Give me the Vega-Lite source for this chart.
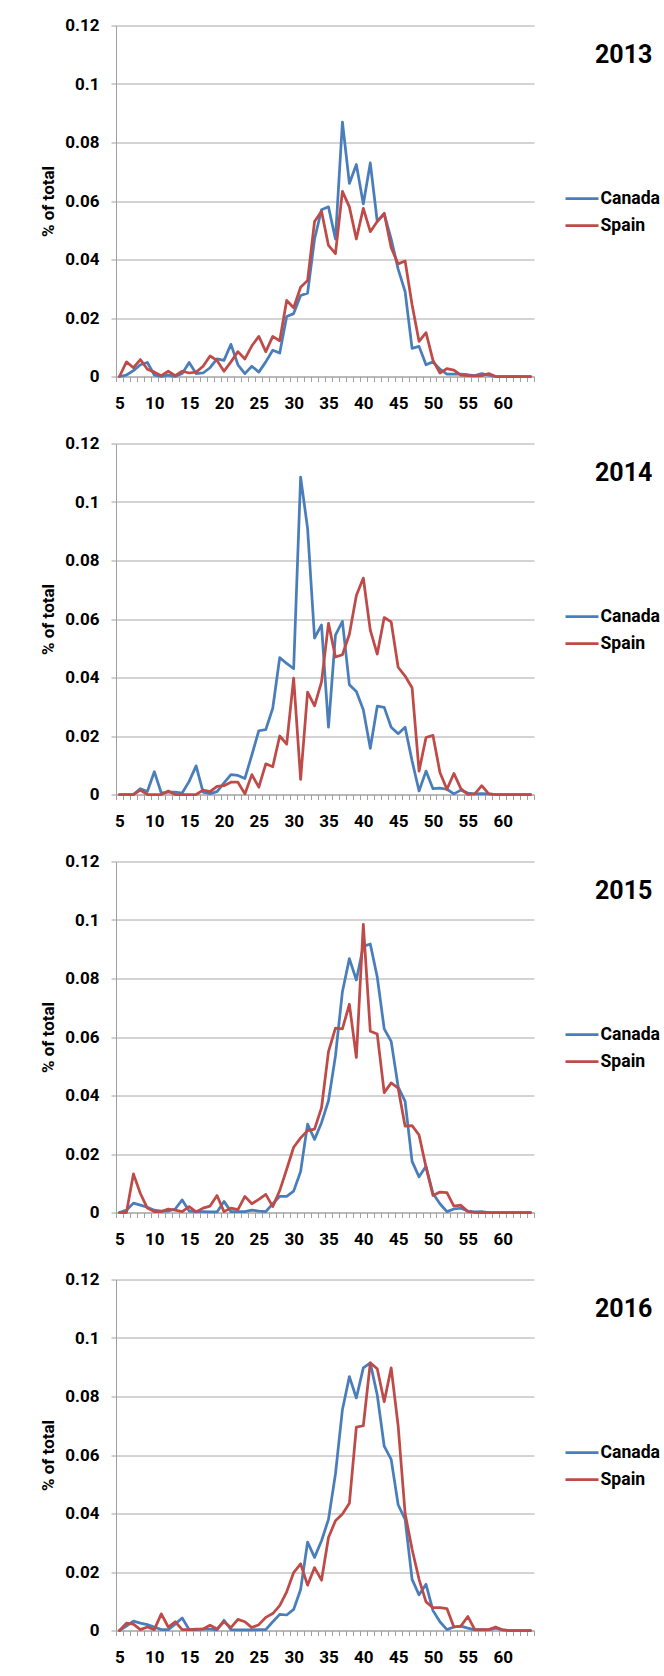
{
"$schema": "https://vega.github.io/schema/vega-lite/v6.json",
"padding": {"left": 39, "top": 16.5, "right": 0, "bottom": 0},
"background": "#ffffff",
"spacing": 23,
"data": {"values": [
{"year":2013,"country":"Canada","age":5,"pct":0},{"year":2013,"country":"Canada","age":6,"pct":0.0005},{"year":2013,"country":"Canada","age":7,"pct":0.002},{"year":2013,"country":"Canada","age":8,"pct":0.004},{"year":2013,"country":"Canada","age":9,"pct":0.0048},{"year":2013,"country":"Canada","age":10,"pct":0.0005},{"year":2013,"country":"Canada","age":11,"pct":0},{"year":2013,"country":"Canada","age":12,"pct":0.0005},{"year":2013,"country":"Canada","age":13,"pct":0},{"year":2013,"country":"Canada","age":14,"pct":0.001},
{"year":2013,"country":"Canada","age":15,"pct":0.0048},{"year":2013,"country":"Canada","age":16,"pct":0.001},{"year":2013,"country":"Canada","age":17,"pct":0.0012},{"year":2013,"country":"Canada","age":18,"pct":0.003},{"year":2013,"country":"Canada","age":19,"pct":0.006},{"year":2013,"country":"Canada","age":20,"pct":0.0055},{"year":2013,"country":"Canada","age":21,"pct":0.011},{"year":2013,"country":"Canada","age":22,"pct":0.004},{"year":2013,"country":"Canada","age":23,"pct":0.001},{"year":2013,"country":"Canada","age":24,"pct":0.0035},
{"year":2013,"country":"Canada","age":25,"pct":0.0015},{"year":2013,"country":"Canada","age":26,"pct":0.005},{"year":2013,"country":"Canada","age":27,"pct":0.009},{"year":2013,"country":"Canada","age":28,"pct":0.008},{"year":2013,"country":"Canada","age":29,"pct":0.0205},{"year":2013,"country":"Canada","age":30,"pct":0.0215},{"year":2013,"country":"Canada","age":31,"pct":0.0277},{"year":2013,"country":"Canada","age":32,"pct":0.0285},{"year":2013,"country":"Canada","age":33,"pct":0.047},{"year":2013,"country":"Canada","age":34,"pct":0.057},
{"year":2013,"country":"Canada","age":35,"pct":0.058},{"year":2013,"country":"Canada","age":36,"pct":0.047},{"year":2013,"country":"Canada","age":37,"pct":0.087},{"year":2013,"country":"Canada","age":38,"pct":0.066},{"year":2013,"country":"Canada","age":39,"pct":0.0725},{"year":2013,"country":"Canada","age":40,"pct":0.059},{"year":2013,"country":"Canada","age":41,"pct":0.073},{"year":2013,"country":"Canada","age":42,"pct":0.053},{"year":2013,"country":"Canada","age":43,"pct":0.0556},{"year":2013,"country":"Canada","age":44,"pct":0.047},
{"year":2013,"country":"Canada","age":45,"pct":0.0367},{"year":2013,"country":"Canada","age":46,"pct":0.029},{"year":2013,"country":"Canada","age":47,"pct":0.0096},{"year":2013,"country":"Canada","age":48,"pct":0.0103},{"year":2013,"country":"Canada","age":49,"pct":0.004},{"year":2013,"country":"Canada","age":50,"pct":0.005},{"year":2013,"country":"Canada","age":51,"pct":0.0025},{"year":2013,"country":"Canada","age":52,"pct":0.0008},{"year":2013,"country":"Canada","age":53,"pct":0.0008},{"year":2013,"country":"Canada","age":54,"pct":0.0008},
{"year":2013,"country":"Canada","age":55,"pct":0.0006},{"year":2013,"country":"Canada","age":56,"pct":0.0003},{"year":2013,"country":"Canada","age":57,"pct":0.001},{"year":2013,"country":"Canada","age":58,"pct":0.0005},{"year":2013,"country":"Canada","age":59,"pct":0},{"year":2013,"country":"Canada","age":60,"pct":0},{"year":2013,"country":"Canada","age":61,"pct":0},{"year":2013,"country":"Canada","age":62,"pct":0},{"year":2013,"country":"Canada","age":63,"pct":0},{"year":2013,"country":"Canada","age":64,"pct":0},
{"year":2013,"country":"Spain","age":5,"pct":0},{"year":2013,"country":"Spain","age":6,"pct":0.005},{"year":2013,"country":"Spain","age":7,"pct":0.003},{"year":2013,"country":"Spain","age":8,"pct":0.0058},{"year":2013,"country":"Spain","age":9,"pct":0.0025},{"year":2013,"country":"Spain","age":10,"pct":0.0015},{"year":2013,"country":"Spain","age":11,"pct":0.0003},{"year":2013,"country":"Spain","age":12,"pct":0.0018},{"year":2013,"country":"Spain","age":13,"pct":0.0003},{"year":2013,"country":"Spain","age":14,"pct":0.0018},
{"year":2013,"country":"Spain","age":15,"pct":0.0012},{"year":2013,"country":"Spain","age":16,"pct":0.0015},{"year":2013,"country":"Spain","age":17,"pct":0.0035},{"year":2013,"country":"Spain","age":18,"pct":0.007},{"year":2013,"country":"Spain","age":19,"pct":0.0055},{"year":2013,"country":"Spain","age":20,"pct":0.0018},{"year":2013,"country":"Spain","age":21,"pct":0.005},{"year":2013,"country":"Spain","age":22,"pct":0.0085},{"year":2013,"country":"Spain","age":23,"pct":0.006},{"year":2013,"country":"Spain","age":24,"pct":0.0105},
{"year":2013,"country":"Spain","age":25,"pct":0.0137},{"year":2013,"country":"Spain","age":26,"pct":0.0085},{"year":2013,"country":"Spain","age":27,"pct":0.0137},{"year":2013,"country":"Spain","age":28,"pct":0.0122},{"year":2013,"country":"Spain","age":29,"pct":0.026},{"year":2013,"country":"Spain","age":30,"pct":0.0235},{"year":2013,"country":"Spain","age":31,"pct":0.0305},{"year":2013,"country":"Spain","age":32,"pct":0.0328},{"year":2013,"country":"Spain","age":33,"pct":0.053},{"year":2013,"country":"Spain","age":34,"pct":0.0565},
{"year":2013,"country":"Spain","age":35,"pct":0.0448},{"year":2013,"country":"Spain","age":36,"pct":0.042},{"year":2013,"country":"Spain","age":37,"pct":0.0633},{"year":2013,"country":"Spain","age":38,"pct":0.058},{"year":2013,"country":"Spain","age":39,"pct":0.047},{"year":2013,"country":"Spain","age":40,"pct":0.0575},{"year":2013,"country":"Spain","age":41,"pct":0.0495},{"year":2013,"country":"Spain","age":42,"pct":0.053},{"year":2013,"country":"Spain","age":43,"pct":0.0558},{"year":2013,"country":"Spain","age":44,"pct":0.044},
{"year":2013,"country":"Spain","age":45,"pct":0.0385},{"year":2013,"country":"Spain","age":46,"pct":0.0395},{"year":2013,"country":"Spain","age":47,"pct":0.0245},{"year":2013,"country":"Spain","age":48,"pct":0.012},{"year":2013,"country":"Spain","age":49,"pct":0.015},{"year":2013,"country":"Spain","age":50,"pct":0.0055},{"year":2013,"country":"Spain","age":51,"pct":0.0012},{"year":2013,"country":"Spain","age":52,"pct":0.0027},{"year":2013,"country":"Spain","age":53,"pct":0.0022},{"year":2013,"country":"Spain","age":54,"pct":0.0005},
{"year":2013,"country":"Spain","age":55,"pct":0.0003},{"year":2013,"country":"Spain","age":56,"pct":0.0002},{"year":2013,"country":"Spain","age":57,"pct":0.0003},{"year":2013,"country":"Spain","age":58,"pct":0.001},{"year":2013,"country":"Spain","age":59,"pct":0},{"year":2013,"country":"Spain","age":60,"pct":0},{"year":2013,"country":"Spain","age":61,"pct":0},{"year":2013,"country":"Spain","age":62,"pct":0},{"year":2013,"country":"Spain","age":63,"pct":0},{"year":2013,"country":"Spain","age":64,"pct":0},
{"year":2014,"country":"Canada","age":5,"pct":0},{"year":2014,"country":"Canada","age":6,"pct":0},{"year":2014,"country":"Canada","age":7,"pct":0},{"year":2014,"country":"Canada","age":8,"pct":0.002},{"year":2014,"country":"Canada","age":9,"pct":0.001},{"year":2014,"country":"Canada","age":10,"pct":0.0078},{"year":2014,"country":"Canada","age":11,"pct":0.0005},{"year":2014,"country":"Canada","age":12,"pct":0.0008},{"year":2014,"country":"Canada","age":13,"pct":0.0008},{"year":2014,"country":"Canada","age":14,"pct":0.0005},
{"year":2014,"country":"Canada","age":15,"pct":0.0045},{"year":2014,"country":"Canada","age":16,"pct":0.0098},{"year":2014,"country":"Canada","age":17,"pct":0.0008},{"year":2014,"country":"Canada","age":18,"pct":0.0003},{"year":2014,"country":"Canada","age":19,"pct":0.001},{"year":2014,"country":"Canada","age":20,"pct":0.004},{"year":2014,"country":"Canada","age":21,"pct":0.0068},{"year":2014,"country":"Canada","age":22,"pct":0.0065},{"year":2014,"country":"Canada","age":23,"pct":0.0055},{"year":2014,"country":"Canada","age":24,"pct":0.0135},
{"year":2014,"country":"Canada","age":25,"pct":0.0218},{"year":2014,"country":"Canada","age":26,"pct":0.0222},{"year":2014,"country":"Canada","age":27,"pct":0.0295},{"year":2014,"country":"Canada","age":28,"pct":0.0468},{"year":2014,"country":"Canada","age":29,"pct":0.0448},{"year":2014,"country":"Canada","age":30,"pct":0.043},{"year":2014,"country":"Canada","age":31,"pct":0.1085},{"year":2014,"country":"Canada","age":32,"pct":0.091},{"year":2014,"country":"Canada","age":33,"pct":0.0535},{"year":2014,"country":"Canada","age":34,"pct":0.058},
{"year":2014,"country":"Canada","age":35,"pct":0.023},{"year":2014,"country":"Canada","age":36,"pct":0.0545},{"year":2014,"country":"Canada","age":37,"pct":0.0592},{"year":2014,"country":"Canada","age":38,"pct":0.0375},{"year":2014,"country":"Canada","age":39,"pct":0.0352},{"year":2014,"country":"Canada","age":40,"pct":0.029},{"year":2014,"country":"Canada","age":41,"pct":0.0158},{"year":2014,"country":"Canada","age":42,"pct":0.0302},{"year":2014,"country":"Canada","age":43,"pct":0.0298},{"year":2014,"country":"Canada","age":44,"pct":0.023},
{"year":2014,"country":"Canada","age":45,"pct":0.0208},{"year":2014,"country":"Canada","age":46,"pct":0.023},{"year":2014,"country":"Canada","age":47,"pct":0.0115},{"year":2014,"country":"Canada","age":48,"pct":0.0012},{"year":2014,"country":"Canada","age":49,"pct":0.008},{"year":2014,"country":"Canada","age":50,"pct":0.002},{"year":2014,"country":"Canada","age":51,"pct":0.0022},{"year":2014,"country":"Canada","age":52,"pct":0.0018},{"year":2014,"country":"Canada","age":53,"pct":0.0002},{"year":2014,"country":"Canada","age":54,"pct":0.0015},
{"year":2014,"country":"Canada","age":55,"pct":0.0005},{"year":2014,"country":"Canada","age":56,"pct":0.0002},{"year":2014,"country":"Canada","age":57,"pct":0.0003},{"year":2014,"country":"Canada","age":58,"pct":0.0002},{"year":2014,"country":"Canada","age":59,"pct":0},{"year":2014,"country":"Canada","age":60,"pct":0},{"year":2014,"country":"Canada","age":61,"pct":0},{"year":2014,"country":"Canada","age":62,"pct":0},{"year":2014,"country":"Canada","age":63,"pct":0},{"year":2014,"country":"Canada","age":64,"pct":0},
{"year":2014,"country":"Spain","age":5,"pct":0},{"year":2014,"country":"Spain","age":6,"pct":0},{"year":2014,"country":"Spain","age":7,"pct":0},{"year":2014,"country":"Spain","age":8,"pct":0.0015},{"year":2014,"country":"Spain","age":9,"pct":0},{"year":2014,"country":"Spain","age":10,"pct":0},{"year":2014,"country":"Spain","age":11,"pct":0},{"year":2014,"country":"Spain","age":12,"pct":0.0012},{"year":2014,"country":"Spain","age":13,"pct":0},{"year":2014,"country":"Spain","age":14,"pct":0},
{"year":2014,"country":"Spain","age":15,"pct":0},{"year":2014,"country":"Spain","age":16,"pct":0},{"year":2014,"country":"Spain","age":17,"pct":0.0015},{"year":2014,"country":"Spain","age":18,"pct":0.001},{"year":2014,"country":"Spain","age":19,"pct":0.0028},{"year":2014,"country":"Spain","age":20,"pct":0.003},{"year":2014,"country":"Spain","age":21,"pct":0.0042},{"year":2014,"country":"Spain","age":22,"pct":0.0042},{"year":2014,"country":"Spain","age":23,"pct":0.0002},{"year":2014,"country":"Spain","age":24,"pct":0.0068},
{"year":2014,"country":"Spain","age":25,"pct":0.0025},{"year":2014,"country":"Spain","age":26,"pct":0.0105},{"year":2014,"country":"Spain","age":27,"pct":0.0095},{"year":2014,"country":"Spain","age":28,"pct":0.02},{"year":2014,"country":"Spain","age":29,"pct":0.0172},{"year":2014,"country":"Spain","age":30,"pct":0.0398},{"year":2014,"country":"Spain","age":31,"pct":0.0052},{"year":2014,"country":"Spain","age":32,"pct":0.035},{"year":2014,"country":"Spain","age":33,"pct":0.0303},{"year":2014,"country":"Spain","age":34,"pct":0.0385},
{"year":2014,"country":"Spain","age":35,"pct":0.0585},{"year":2014,"country":"Spain","age":36,"pct":0.047},{"year":2014,"country":"Spain","age":37,"pct":0.0478},{"year":2014,"country":"Spain","age":38,"pct":0.0548},{"year":2014,"country":"Spain","age":39,"pct":0.068},{"year":2014,"country":"Spain","age":40,"pct":0.074},{"year":2014,"country":"Spain","age":41,"pct":0.0562},{"year":2014,"country":"Spain","age":42,"pct":0.048},{"year":2014,"country":"Spain","age":43,"pct":0.0605},{"year":2014,"country":"Spain","age":44,"pct":0.059},
{"year":2014,"country":"Spain","age":45,"pct":0.0435},{"year":2014,"country":"Spain","age":46,"pct":0.0405},{"year":2014,"country":"Spain","age":47,"pct":0.0365},{"year":2014,"country":"Spain","age":48,"pct":0.008},{"year":2014,"country":"Spain","age":49,"pct":0.0195},{"year":2014,"country":"Spain","age":50,"pct":0.0202},{"year":2014,"country":"Spain","age":51,"pct":0.0075},{"year":2014,"country":"Spain","age":52,"pct":0.0018},{"year":2014,"country":"Spain","age":53,"pct":0.0072},{"year":2014,"country":"Spain","age":54,"pct":0.002},
{"year":2014,"country":"Spain","age":55,"pct":0},{"year":2014,"country":"Spain","age":56,"pct":0.0002},{"year":2014,"country":"Spain","age":57,"pct":0.003},{"year":2014,"country":"Spain","age":58,"pct":0.0002},{"year":2014,"country":"Spain","age":59,"pct":0},{"year":2014,"country":"Spain","age":60,"pct":0},{"year":2014,"country":"Spain","age":61,"pct":0},{"year":2014,"country":"Spain","age":62,"pct":0},{"year":2014,"country":"Spain","age":63,"pct":0},{"year":2014,"country":"Spain","age":64,"pct":0},
{"year":2015,"country":"Canada","age":5,"pct":0},{"year":2015,"country":"Canada","age":6,"pct":0.0008},{"year":2015,"country":"Canada","age":7,"pct":0.0032},{"year":2015,"country":"Canada","age":8,"pct":0.0025},{"year":2015,"country":"Canada","age":9,"pct":0.0018},{"year":2015,"country":"Canada","age":10,"pct":0.0008},{"year":2015,"country":"Canada","age":11,"pct":0.0005},{"year":2015,"country":"Canada","age":12,"pct":0.0005},{"year":2015,"country":"Canada","age":13,"pct":0.0012},{"year":2015,"country":"Canada","age":14,"pct":0.0043},
{"year":2015,"country":"Canada","age":15,"pct":0.0005},{"year":2015,"country":"Canada","age":16,"pct":0.0003},{"year":2015,"country":"Canada","age":17,"pct":0.0003},{"year":2015,"country":"Canada","age":18,"pct":0.0002},{"year":2015,"country":"Canada","age":19,"pct":0.0002},{"year":2015,"country":"Canada","age":20,"pct":0.0038},{"year":2015,"country":"Canada","age":21,"pct":0.0003},{"year":2015,"country":"Canada","age":22,"pct":0.0003},{"year":2015,"country":"Canada","age":23,"pct":0.0003},{"year":2015,"country":"Canada","age":24,"pct":0.0008},
{"year":2015,"country":"Canada","age":25,"pct":0.0005},{"year":2015,"country":"Canada","age":26,"pct":0.0003},{"year":2015,"country":"Canada","age":27,"pct":0.003},{"year":2015,"country":"Canada","age":28,"pct":0.0055},{"year":2015,"country":"Canada","age":29,"pct":0.0055},{"year":2015,"country":"Canada","age":30,"pct":0.0073},{"year":2015,"country":"Canada","age":31,"pct":0.014},{"year":2015,"country":"Canada","age":32,"pct":0.0302},{"year":2015,"country":"Canada","age":33,"pct":0.025},{"year":2015,"country":"Canada","age":34,"pct":0.0307},
{"year":2015,"country":"Canada","age":35,"pct":0.0382},{"year":2015,"country":"Canada","age":36,"pct":0.0535},{"year":2015,"country":"Canada","age":37,"pct":0.0755},{"year":2015,"country":"Canada","age":38,"pct":0.0868},{"year":2015,"country":"Canada","age":39,"pct":0.0795},{"year":2015,"country":"Canada","age":40,"pct":0.091},{"year":2015,"country":"Canada","age":41,"pct":0.0918},{"year":2015,"country":"Canada","age":42,"pct":0.0805},{"year":2015,"country":"Canada","age":43,"pct":0.0628},{"year":2015,"country":"Canada","age":44,"pct":0.0585},
{"year":2015,"country":"Canada","age":45,"pct":0.043},{"year":2015,"country":"Canada","age":46,"pct":0.038},{"year":2015,"country":"Canada","age":47,"pct":0.0175},{"year":2015,"country":"Canada","age":48,"pct":0.0122},{"year":2015,"country":"Canada","age":49,"pct":0.0158},{"year":2015,"country":"Canada","age":50,"pct":0.0065},{"year":2015,"country":"Canada","age":51,"pct":0.003},{"year":2015,"country":"Canada","age":52,"pct":0.0003},{"year":2015,"country":"Canada","age":53,"pct":0.0012},{"year":2015,"country":"Canada","age":54,"pct":0.0015},
{"year":2015,"country":"Canada","age":55,"pct":0.0005},{"year":2015,"country":"Canada","age":56,"pct":0.0002},{"year":2015,"country":"Canada","age":57,"pct":0.0003},{"year":2015,"country":"Canada","age":58,"pct":0},{"year":2015,"country":"Canada","age":59,"pct":0},{"year":2015,"country":"Canada","age":60,"pct":0},{"year":2015,"country":"Canada","age":61,"pct":0},{"year":2015,"country":"Canada","age":62,"pct":0},{"year":2015,"country":"Canada","age":63,"pct":0},{"year":2015,"country":"Canada","age":64,"pct":0},
{"year":2015,"country":"Spain","age":5,"pct":0},{"year":2015,"country":"Spain","age":6,"pct":0},{"year":2015,"country":"Spain","age":7,"pct":0.0132},{"year":2015,"country":"Spain","age":8,"pct":0.0065},{"year":2015,"country":"Spain","age":9,"pct":0.0015},{"year":2015,"country":"Spain","age":10,"pct":0.0003},{"year":2015,"country":"Spain","age":11,"pct":0.0003},{"year":2015,"country":"Spain","age":12,"pct":0.0012},{"year":2015,"country":"Spain","age":13,"pct":0.0008},{"year":2015,"country":"Spain","age":14,"pct":0.0003},
{"year":2015,"country":"Spain","age":15,"pct":0.002},{"year":2015,"country":"Spain","age":16,"pct":0.0002},{"year":2015,"country":"Spain","age":17,"pct":0.0015},{"year":2015,"country":"Spain","age":18,"pct":0.0022},{"year":2015,"country":"Spain","age":19,"pct":0.0058},{"year":2015,"country":"Spain","age":20,"pct":0.0003},{"year":2015,"country":"Spain","age":21,"pct":0.0015},{"year":2015,"country":"Spain","age":22,"pct":0.001},{"year":2015,"country":"Spain","age":23,"pct":0.0055},{"year":2015,"country":"Spain","age":24,"pct":0.003},
{"year":2015,"country":"Spain","age":25,"pct":0.0045},{"year":2015,"country":"Spain","age":26,"pct":0.0062},{"year":2015,"country":"Spain","age":27,"pct":0.002},{"year":2015,"country":"Spain","age":28,"pct":0.0075},{"year":2015,"country":"Spain","age":29,"pct":0.0148},{"year":2015,"country":"Spain","age":30,"pct":0.0223},{"year":2015,"country":"Spain","age":31,"pct":0.0255},{"year":2015,"country":"Spain","age":32,"pct":0.028},{"year":2015,"country":"Spain","age":33,"pct":0.0285},{"year":2015,"country":"Spain","age":34,"pct":0.0358},
{"year":2015,"country":"Spain","age":35,"pct":0.055},{"year":2015,"country":"Spain","age":36,"pct":0.063},{"year":2015,"country":"Spain","age":37,"pct":0.0628},{"year":2015,"country":"Spain","age":38,"pct":0.0712},{"year":2015,"country":"Spain","age":39,"pct":0.053},{"year":2015,"country":"Spain","age":40,"pct":0.0985},{"year":2015,"country":"Spain","age":41,"pct":0.062},{"year":2015,"country":"Spain","age":42,"pct":0.061},{"year":2015,"country":"Spain","age":43,"pct":0.041},{"year":2015,"country":"Spain","age":44,"pct":0.0443},
{"year":2015,"country":"Spain","age":45,"pct":0.0425},{"year":2015,"country":"Spain","age":46,"pct":0.0295},{"year":2015,"country":"Spain","age":47,"pct":0.0297},{"year":2015,"country":"Spain","age":48,"pct":0.0265},{"year":2015,"country":"Spain","age":49,"pct":0.0155},{"year":2015,"country":"Spain","age":50,"pct":0.0058},{"year":2015,"country":"Spain","age":51,"pct":0.007},{"year":2015,"country":"Spain","age":52,"pct":0.0068},{"year":2015,"country":"Spain","age":53,"pct":0.0022},{"year":2015,"country":"Spain","age":54,"pct":0.0025},
{"year":2015,"country":"Spain","age":55,"pct":0.0003},{"year":2015,"country":"Spain","age":56,"pct":0},{"year":2015,"country":"Spain","age":57,"pct":0},{"year":2015,"country":"Spain","age":58,"pct":0},{"year":2015,"country":"Spain","age":59,"pct":0},{"year":2015,"country":"Spain","age":60,"pct":0},{"year":2015,"country":"Spain","age":61,"pct":0},{"year":2015,"country":"Spain","age":62,"pct":0},{"year":2015,"country":"Spain","age":63,"pct":0},{"year":2015,"country":"Spain","age":64,"pct":0},
{"year":2016,"country":"Canada","age":5,"pct":0},{"year":2016,"country":"Canada","age":6,"pct":0.0015},{"year":2016,"country":"Canada","age":7,"pct":0.0032},{"year":2016,"country":"Canada","age":8,"pct":0.0025},{"year":2016,"country":"Canada","age":9,"pct":0.002},{"year":2016,"country":"Canada","age":10,"pct":0.0012},{"year":2016,"country":"Canada","age":11,"pct":0.0003},{"year":2016,"country":"Canada","age":12,"pct":0.0003},{"year":2016,"country":"Canada","age":13,"pct":0.0022},{"year":2016,"country":"Canada","age":14,"pct":0.0043},
{"year":2016,"country":"Canada","age":15,"pct":0.0003},{"year":2016,"country":"Canada","age":16,"pct":0.0003},{"year":2016,"country":"Canada","age":17,"pct":0.0005},{"year":2016,"country":"Canada","age":18,"pct":0.0005},{"year":2016,"country":"Canada","age":19,"pct":0.0002},{"year":2016,"country":"Canada","age":20,"pct":0.0035},{"year":2016,"country":"Canada","age":21,"pct":0.0003},{"year":2016,"country":"Canada","age":22,"pct":0.0002},{"year":2016,"country":"Canada","age":23,"pct":0.0002},{"year":2016,"country":"Canada","age":24,"pct":0.0002},
{"year":2016,"country":"Canada","age":25,"pct":0.0003},{"year":2016,"country":"Canada","age":26,"pct":0.0003},{"year":2016,"country":"Canada","age":27,"pct":0.003},{"year":2016,"country":"Canada","age":28,"pct":0.0055},{"year":2016,"country":"Canada","age":29,"pct":0.0053},{"year":2016,"country":"Canada","age":30,"pct":0.0072},{"year":2016,"country":"Canada","age":31,"pct":0.014},{"year":2016,"country":"Canada","age":32,"pct":0.0302},{"year":2016,"country":"Canada","age":33,"pct":0.025},{"year":2016,"country":"Canada","age":34,"pct":0.0307},
{"year":2016,"country":"Canada","age":35,"pct":0.038},{"year":2016,"country":"Canada","age":36,"pct":0.0535},{"year":2016,"country":"Canada","age":37,"pct":0.0755},{"year":2016,"country":"Canada","age":38,"pct":0.0868},{"year":2016,"country":"Canada","age":39,"pct":0.0795},{"year":2016,"country":"Canada","age":40,"pct":0.0898},{"year":2016,"country":"Canada","age":41,"pct":0.0915},{"year":2016,"country":"Canada","age":42,"pct":0.0805},{"year":2016,"country":"Canada","age":43,"pct":0.063},{"year":2016,"country":"Canada","age":44,"pct":0.0585},
{"year":2016,"country":"Canada","age":45,"pct":0.043},{"year":2016,"country":"Canada","age":46,"pct":0.038},{"year":2016,"country":"Canada","age":47,"pct":0.0175},{"year":2016,"country":"Canada","age":48,"pct":0.0122},{"year":2016,"country":"Canada","age":49,"pct":0.0158},{"year":2016,"country":"Canada","age":50,"pct":0.0068},{"year":2016,"country":"Canada","age":51,"pct":0.003},{"year":2016,"country":"Canada","age":52,"pct":0.0003},{"year":2016,"country":"Canada","age":53,"pct":0.0012},{"year":2016,"country":"Canada","age":54,"pct":0.0015},
{"year":2016,"country":"Canada","age":55,"pct":0.0008},{"year":2016,"country":"Canada","age":56,"pct":0.0002},{"year":2016,"country":"Canada","age":57,"pct":0.0003},{"year":2016,"country":"Canada","age":58,"pct":0.0002},{"year":2016,"country":"Canada","age":59,"pct":0.0008},{"year":2016,"country":"Canada","age":60,"pct":0.0002},{"year":2016,"country":"Canada","age":61,"pct":0},{"year":2016,"country":"Canada","age":62,"pct":0},{"year":2016,"country":"Canada","age":63,"pct":0},{"year":2016,"country":"Canada","age":64,"pct":0},
{"year":2016,"country":"Spain","age":5,"pct":0},{"year":2016,"country":"Spain","age":6,"pct":0.0025},{"year":2016,"country":"Spain","age":7,"pct":0.0022},{"year":2016,"country":"Spain","age":8,"pct":0.0003},{"year":2016,"country":"Spain","age":9,"pct":0.0012},{"year":2016,"country":"Spain","age":10,"pct":0.0003},{"year":2016,"country":"Spain","age":11,"pct":0.0057},{"year":2016,"country":"Spain","age":12,"pct":0.0012},{"year":2016,"country":"Spain","age":13,"pct":0.003},{"year":2016,"country":"Spain","age":14,"pct":0.0003},
{"year":2016,"country":"Spain","age":15,"pct":0.0003},{"year":2016,"country":"Spain","age":16,"pct":0.0005},{"year":2016,"country":"Spain","age":17,"pct":0.0005},{"year":2016,"country":"Spain","age":18,"pct":0.0018},{"year":2016,"country":"Spain","age":19,"pct":0.0005},{"year":2016,"country":"Spain","age":20,"pct":0.003},{"year":2016,"country":"Spain","age":21,"pct":0.001},{"year":2016,"country":"Spain","age":22,"pct":0.0038},{"year":2016,"country":"Spain","age":23,"pct":0.003},{"year":2016,"country":"Spain","age":24,"pct":0.001},
{"year":2016,"country":"Spain","age":25,"pct":0.002},{"year":2016,"country":"Spain","age":26,"pct":0.0045},{"year":2016,"country":"Spain","age":27,"pct":0.0058},{"year":2016,"country":"Spain","age":28,"pct":0.0085},{"year":2016,"country":"Spain","age":29,"pct":0.0132},{"year":2016,"country":"Spain","age":30,"pct":0.0198},{"year":2016,"country":"Spain","age":31,"pct":0.0228},{"year":2016,"country":"Spain","age":32,"pct":0.0155},{"year":2016,"country":"Spain","age":33,"pct":0.0215},{"year":2016,"country":"Spain","age":34,"pct":0.0172},
{"year":2016,"country":"Spain","age":35,"pct":0.0318},{"year":2016,"country":"Spain","age":36,"pct":0.0375},{"year":2016,"country":"Spain","age":37,"pct":0.0398},{"year":2016,"country":"Spain","age":38,"pct":0.0435},{"year":2016,"country":"Spain","age":39,"pct":0.0695},{"year":2016,"country":"Spain","age":40,"pct":0.07},{"year":2016,"country":"Spain","age":41,"pct":0.0915},{"year":2016,"country":"Spain","age":42,"pct":0.0895},{"year":2016,"country":"Spain","age":43,"pct":0.0782},{"year":2016,"country":"Spain","age":44,"pct":0.0898},
{"year":2016,"country":"Spain","age":45,"pct":0.07},{"year":2016,"country":"Spain","age":46,"pct":0.04},{"year":2016,"country":"Spain","age":47,"pct":0.0278},{"year":2016,"country":"Spain","age":48,"pct":0.0175},{"year":2016,"country":"Spain","age":49,"pct":0.0098},{"year":2016,"country":"Spain","age":50,"pct":0.0078},{"year":2016,"country":"Spain","age":51,"pct":0.0078},{"year":2016,"country":"Spain","age":52,"pct":0.0075},{"year":2016,"country":"Spain","age":53,"pct":0.0012},{"year":2016,"country":"Spain","age":54,"pct":0.0015},
{"year":2016,"country":"Spain","age":55,"pct":0.0048},{"year":2016,"country":"Spain","age":56,"pct":0.0003},{"year":2016,"country":"Spain","age":57,"pct":0.0003},{"year":2016,"country":"Spain","age":58,"pct":0.0003},{"year":2016,"country":"Spain","age":59,"pct":0.0012},{"year":2016,"country":"Spain","age":60,"pct":0.0002},{"year":2016,"country":"Spain","age":61,"pct":0},{"year":2016,"country":"Spain","age":62,"pct":0},{"year":2016,"country":"Spain","age":63,"pct":0},{"year":2016,"country":"Spain","age":64,"pct":0}
]},
"resolve": {"scale": {"color": "independent"}, "legend": {"color": "independent"}},
"vconcat": [
{"width": 418, "height": 351, "title": {"text": "2013"},
 "transform": [{"filter": "datum.year == 2013"}],
 "mark": {"type": "line"},
 "encoding": {
  "x": {"field": "age", "type": "quantitative", "title": null, "scale": {"domain": [4.5, 64.5], "nice": false, "zero": false},
        "axis": {"values": [4.5,5.5,6.5,7.5,8.5,9.5,10.5,11.5,12.5,13.5,14.5,15.5,16.5,17.5,18.5,19.5,20.5,21.5,22.5,23.5,24.5,25.5,26.5,27.5,28.5,29.5,30.5,31.5,32.5,33.5,34.5,35.5,36.5,37.5,38.5,39.5,40.5,41.5,42.5,43.5,44.5,45.5,46.5,47.5,48.5,49.5,50.5,51.5,52.5,53.5,54.5,55.5,56.5,57.5,58.5,59.5,60.5,61.5,62.5,63.5,64.5],
                 "labelExpr": "((datum.value + 0.5) % 5 == 0 && datum.value < 61) ? format(datum.value + 0.5, 'd') : ''"}},
  "y": {"field": "pct", "type": "quantitative", "title": "% of total", "scale": {"domain": [0, 0.12], "nice": false},
        "axis": {"values": [0, 0.02, 0.04, 0.06, 0.08, 0.1, 0.12], "format": ".2~f"}},
  "color": {"field": "country", "type": "nominal", "scale": {"domain": ["Canada", "Spain"], "range": ["#4A7EBB", "#BE4B48"]},
            "legend": {"title": null, "orient": "none", "legendX": 448, "legendY": 155}}
 }},
{"width": 418, "height": 351, "title": {"text": "2014"},
 "transform": [{"filter": "datum.year == 2014"}],
 "mark": {"type": "line"},
 "encoding": {
  "x": {"field": "age", "type": "quantitative", "title": null, "scale": {"domain": [4.5, 64.5], "nice": false, "zero": false},
        "axis": {"values": [4.5,5.5,6.5,7.5,8.5,9.5,10.5,11.5,12.5,13.5,14.5,15.5,16.5,17.5,18.5,19.5,20.5,21.5,22.5,23.5,24.5,25.5,26.5,27.5,28.5,29.5,30.5,31.5,32.5,33.5,34.5,35.5,36.5,37.5,38.5,39.5,40.5,41.5,42.5,43.5,44.5,45.5,46.5,47.5,48.5,49.5,50.5,51.5,52.5,53.5,54.5,55.5,56.5,57.5,58.5,59.5,60.5,61.5,62.5,63.5,64.5],
                 "labelExpr": "((datum.value + 0.5) % 5 == 0 && datum.value < 61) ? format(datum.value + 0.5, 'd') : ''"}},
  "y": {"field": "pct", "type": "quantitative", "title": "% of total", "scale": {"domain": [0, 0.12], "nice": false},
        "axis": {"values": [0, 0.02, 0.04, 0.06, 0.08, 0.1, 0.12], "format": ".2~f"}},
  "color": {"field": "country", "type": "nominal", "scale": {"domain": ["Canada", "Spain"], "range": ["#4A7EBB", "#BE4B48"]},
            "legend": {"title": null, "orient": "none", "legendX": 448, "legendY": 155}}
 }},
{"width": 418, "height": 351, "title": {"text": "2015"},
 "transform": [{"filter": "datum.year == 2015"}],
 "mark": {"type": "line"},
 "encoding": {
  "x": {"field": "age", "type": "quantitative", "title": null, "scale": {"domain": [4.5, 64.5], "nice": false, "zero": false},
        "axis": {"values": [4.5,5.5,6.5,7.5,8.5,9.5,10.5,11.5,12.5,13.5,14.5,15.5,16.5,17.5,18.5,19.5,20.5,21.5,22.5,23.5,24.5,25.5,26.5,27.5,28.5,29.5,30.5,31.5,32.5,33.5,34.5,35.5,36.5,37.5,38.5,39.5,40.5,41.5,42.5,43.5,44.5,45.5,46.5,47.5,48.5,49.5,50.5,51.5,52.5,53.5,54.5,55.5,56.5,57.5,58.5,59.5,60.5,61.5,62.5,63.5,64.5],
                 "labelExpr": "((datum.value + 0.5) % 5 == 0 && datum.value < 61) ? format(datum.value + 0.5, 'd') : ''"}},
  "y": {"field": "pct", "type": "quantitative", "title": "% of total", "scale": {"domain": [0, 0.12], "nice": false},
        "axis": {"values": [0, 0.02, 0.04, 0.06, 0.08, 0.1, 0.12], "format": ".2~f"}},
  "color": {"field": "country", "type": "nominal", "scale": {"domain": ["Canada", "Spain"], "range": ["#4A7EBB", "#BE4B48"]},
            "legend": {"title": null, "orient": "none", "legendX": 448, "legendY": 155}}
 }},
{"width": 418, "height": 351, "title": {"text": "2016"},
 "transform": [{"filter": "datum.year == 2016"}],
 "mark": {"type": "line"},
 "encoding": {
  "x": {"field": "age", "type": "quantitative", "title": null, "scale": {"domain": [4.5, 64.5], "nice": false, "zero": false},
        "axis": {"values": [4.5,5.5,6.5,7.5,8.5,9.5,10.5,11.5,12.5,13.5,14.5,15.5,16.5,17.5,18.5,19.5,20.5,21.5,22.5,23.5,24.5,25.5,26.5,27.5,28.5,29.5,30.5,31.5,32.5,33.5,34.5,35.5,36.5,37.5,38.5,39.5,40.5,41.5,42.5,43.5,44.5,45.5,46.5,47.5,48.5,49.5,50.5,51.5,52.5,53.5,54.5,55.5,56.5,57.5,58.5,59.5,60.5,61.5,62.5,63.5,64.5],
                 "labelExpr": "((datum.value + 0.5) % 5 == 0 && datum.value < 61) ? format(datum.value + 0.5, 'd') : ''"}},
  "y": {"field": "pct", "type": "quantitative", "title": "% of total", "scale": {"domain": [0, 0.12], "nice": false},
        "axis": {"values": [0, 0.02, 0.04, 0.06, 0.08, 0.1, 0.12], "format": ".2~f"}},
  "color": {"field": "country", "type": "nominal", "scale": {"domain": ["Canada", "Spain"], "range": ["#4A7EBB", "#BE4B48"]},
            "legend": {"title": null, "orient": "none", "legendX": 448, "legendY": 155}}
 }}
],
"config": {
 "view": {"stroke": null},
 "font": "Roboto",
 "axis": {"labelFont": "Roboto", "labelFontSize": 17, "labelFontWeight": "bold", "labelColor": "#000000",
          "titleFont": "Roboto", "titleFontSize": 17, "titleFontWeight": "bold", "titleColor": "#000000",
          "tickSize": 5, "tickColor": "#a0a0a0", "domainColor": "#a0a0a0", "gridColor": "#a8a8a8",
          "tickWidth": 1, "domainWidth": 1, "gridWidth": 1},
 "axisX": {"grid": false, "labelPadding": 14, "labelFlush": false, "labelOverlap": false, "labelOffset": 3.48, "labelBound": false},
 "axisY": {"grid": true, "labelPadding": 12, "titlePadding": 7, "labelOverlap": false},
 "legend": {"symbolType": "stroke", "symbolSize": 1089, "symbolStrokeWidth": 2.75,
            "labelFont": "Roboto", "labelFontSize": 17.6, "labelFontWeight": "bold", "labelColor": "#000000",
            "labelOffset": 0.5, "rowPadding": 0, "padding": 0},
 "title": {"font": "Roboto", "fontSize": 25, "fontWeight": "bold", "color": "#000000",
           "anchor": "end", "frame": "group", "offset": 0, "dx": 118.4, "dy": 55},
 "line": {"strokeWidth": 2.75, "strokeJoin": "round", "strokeCap": "round"}
}
}
